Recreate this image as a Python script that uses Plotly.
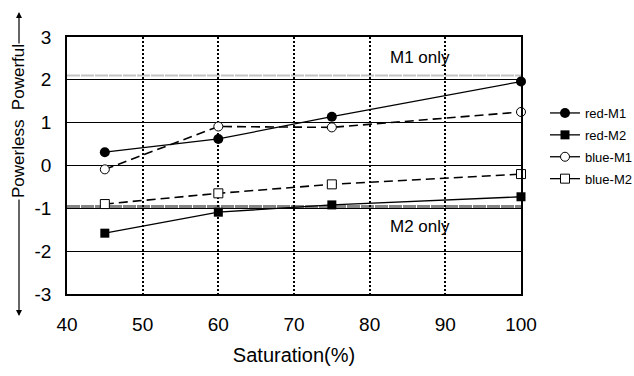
import plotly.graph_objects as go

# ---- data ----
saturation = [45, 60, 75, 100]
red_m1 = [0.31, 0.62, 1.14, 1.96]
red_m2 = [-1.58, -1.09, -0.92, -0.73]
blue_m1 = [-0.09, 0.91, 0.89, 1.25]
blue_m2 = [-0.90, -0.65, -0.44, -0.20]
series_names = ["red-M1", "red-M2", "blue-M1", "blue-M2"]
ref_levels = [2.1, -0.96]
ref_labels = ["M1 only", "M2 only"]
ref_label_pos = [(86.7, 2.52), (86.7, -1.42)]
x_ticks = [40, 50, 60, 70, 80, 90, 100]
x_tick_labels = ["40", "50", "60", "70", "80", "90", "100"]
y_ticks = [-3, -2, -1, 0, 1, 2, 3]
y_tick_labels = ["-3", "-2", "-1", "0", "1", "2", "3"]

W, H = 634, 376
L, R, T, B = 67, 521, 37, 294


def px(x):
    return (x - L) / (R - L)


def py(y):
    return (B - y) / (B - T)


FONT = "Liberation Sans, Arial, sans-serif"

fig = go.Figure()

solid = dict(color="black", width=1.3)
dashed = dict(color="black", width=1.6, dash="9px,5px")
markers = [
    dict(symbol="circle", size=10, color="black"),
    dict(symbol="square", size=9, color="black"),
    dict(symbol="circle", size=9, color="white", line=dict(color="black", width=1)),
    dict(symbol="square", size=9, color="white", line=dict(color="black", width=1)),
]
line_styles = [solid, solid, dashed, dashed]
values = [red_m1, red_m2, blue_m1, blue_m2]

# data traces (legend drawn separately with solid line samples)
for name, vals, ln, mk in zip(series_names, values, line_styles, markers):
    fig.add_trace(go.Scatter(x=saturation, y=vals, name=name, mode="lines+markers",
                             line=ln, marker=mk, cliponaxis=False, showlegend=False))
# legend entries (no data drawn)
for name, mk in zip(series_names, markers):
    fig.add_trace(go.Scatter(x=[None], y=[None], name=name, mode="lines+markers",
                             line=solid, marker=mk, legendgroup=name, showlegend=True))

# reference lines
fig.add_shape(type="line", xref="paper", x0=0, x1=1, yref="y", y0=ref_levels[0], y1=ref_levels[0],
              line=dict(color="#c4c4c4", width=2, dash="13px,1px"), layer="between")
fig.add_shape(type="line", xref="paper", x0=0, x1=1, yref="y", y0=ref_levels[1], y1=ref_levels[1],
              line=dict(color="#858585", width=3, dash="13px,1px"), layer="between")

annotations = []
for lab, (ax_, ay_) in zip(ref_labels, ref_label_pos):
    annotations.append(dict(x=ax_, y=ay_, xref="x", yref="y", text=lab, showarrow=False,
                            xanchor="center", yanchor="middle",
                            font=dict(family=FONT, size=17, color="black")))

# y-axis title with arrows
annotations.append(dict(x=px(19), y=py(121), xref="paper", yref="paper",
                        text="Powerless  Powerful", textangle=-90, showarrow=False,
                        xanchor="center", yanchor="middle",
                        font=dict(family=FONT, size=17, color="black")))
annotations.append(dict(x=px(19), y=py(12), xref="paper", yref="paper", text="",
                        showarrow=True, arrowhead=2, arrowsize=1, arrowwidth=1.2, arrowcolor="black",
                        ax=0, ay=33))
annotations.append(dict(x=px(19), y=py(316), xref="paper", yref="paper", text="",
                        showarrow=True, arrowhead=2, arrowsize=1, arrowwidth=1.2, arrowcolor="black",
                        ax=0, ay=-118))

fig.update_layout(
    width=W, height=H,
    margin=dict(l=L, r=W - R, t=T, b=H - B, pad=0, autoexpand=False),
    paper_bgcolor="white", plot_bgcolor="white",
    font=dict(family=FONT, color="black"),
    annotations=annotations,
    legend=dict(xref="container", yref="container", x=545 / W, y=1 - 98 / H,
                xanchor="left", yanchor="top",
                font=dict(family=FONT, size=13, color="black"),
                bgcolor="rgba(0,0,0,0)", tracegroupgap=2, itemwidth=30),
    showlegend=True,
)
fig.update_xaxes(range=[40, 100], tickvals=x_ticks, ticktext=x_tick_labels, showgrid=True,
                 gridcolor="black", griddash="2px,2px", gridwidth=1.5, showline=True,
                 linecolor="black", linewidth=1.5, mirror=True, zeroline=False, ticks="",
                 ticklabelstandoff=12, automargin=False,
                 tickfont=dict(family=FONT, size=19, color="black"),
                 title=dict(text="Saturation(%)", font=dict(family=FONT, size=20, color="black"), standoff=14))
fig.update_yaxes(range=[-3, 3], tickvals=y_ticks, ticktext=y_tick_labels, showgrid=True,
                 gridcolor="black", gridwidth=1, showline=True, linecolor="black", linewidth=1.5,
                 mirror=True, zeroline=False, ticks="", ticklabelstandoff=10, automargin=False,
                 tickfont=dict(family=FONT, size=19, color="black"))

fig.write_html("out.html", config={"displayModeBar": False},
               post_script="document.body.style.margin='0';")
